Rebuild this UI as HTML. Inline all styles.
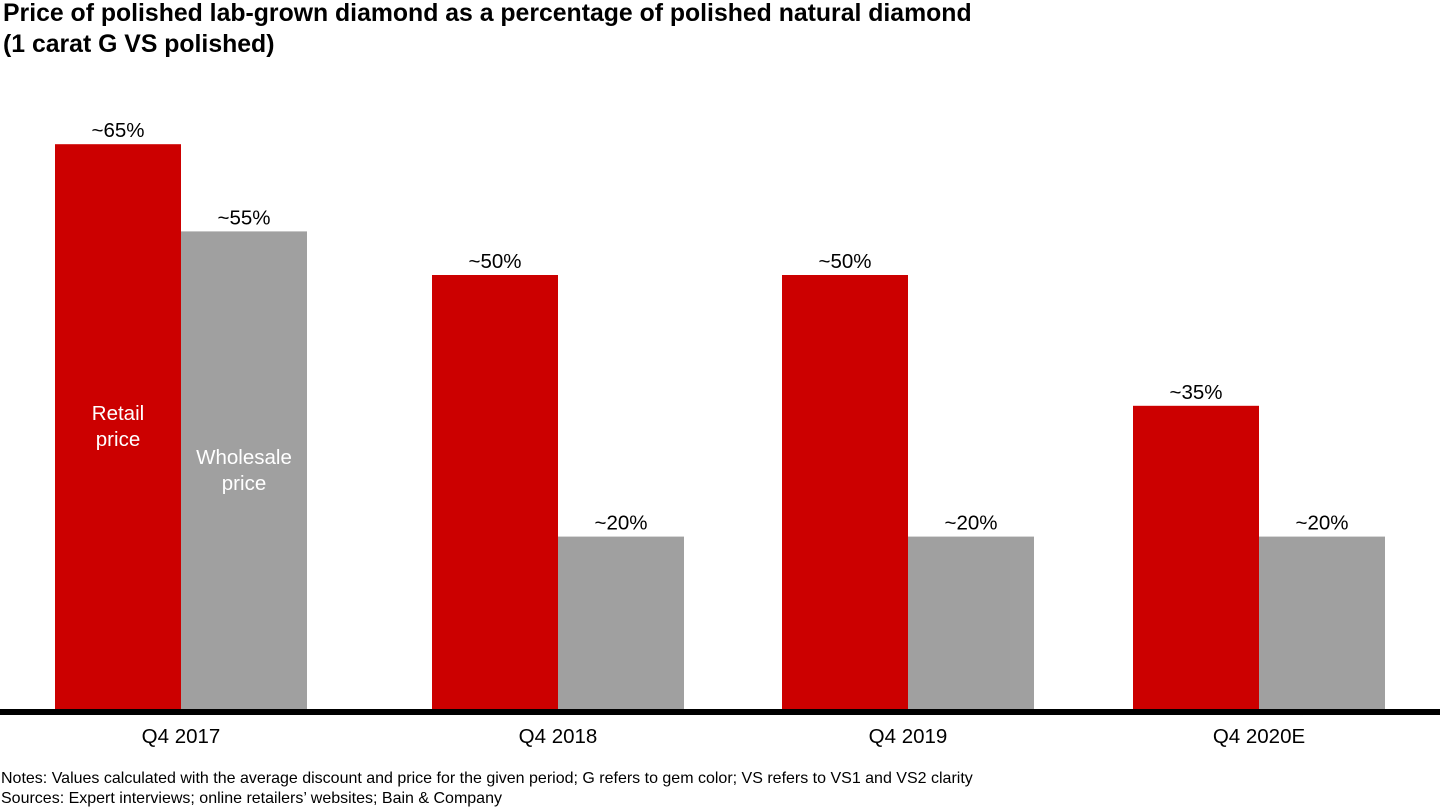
<!DOCTYPE html>
<html><head><meta charset="utf-8"><style>
body{margin:0;background:#fff;font-family:"Liberation Sans",sans-serif;}
#wrap{position:relative;width:1440px;height:810px;overflow:hidden;}
.title{position:absolute;left:3px;font-weight:bold;font-size:24.8px;color:#000;}
.note{position:absolute;left:1px;font-size:16px;color:#000;}
</style></head><body>
<div id="wrap">
<div class="title" style="top:0px">Price of polished lab-grown diamond as a percentage of polished natural diamond</div>
<div class="title" style="top:31px">(1 carat G VS polished)</div>
<svg id="chart" width="1440" height="770" style="position:absolute;left:0;top:0"></svg>
<div class="note" style="top:770px">Notes: Values calculated with the average discount and price for the given period; G refers to gem color; VS refers to VS1 and VS2 clarity</div>
<div class="note" style="top:790px">Sources: Expert interviews; online retailers’ websites; Bain &amp; Company</div>
</div>
<script>
const categories=["Q4 2017","Q4 2018","Q4 2019","Q4 2020E"];
const retail=[65,50,50,35];
const wholesale=[55,20,20,20];
const retailLabels=["~65%","~50%","~50%","~35%"];
const wholesaleLabels=["~55%","~20%","~20%","~20%"];
const svg=document.getElementById('chart');
const NS="http://www.w3.org/2000/svg";
const base=711, pxPer=8.72, barW=126;
const groupCenters=[181,558,908,1259];
function y(v){return base-v*pxPer;}
function cx(i){return groupCenters[i];}
function mk(t,a){const e=document.createElementNS(NS,t);for(const k in a)e.setAttribute(k,a[k]);svg.appendChild(e);return e;}
categories.forEach((c,i)=>{
  const r=mk('rect',{x:cx(i)-barW,y:y(retail[i]),width:barW,height:retail[i]*pxPer,fill:'#cc0000'});
  
  
  const g=mk('rect',{x:cx(i),y:y(wholesale[i]),width:barW,height:wholesale[i]*pxPer,fill:'#a0a0a0'});
  
  
  const t1=mk('text',{x:cx(i)-barW/2,y:y(retail[i])-7,'text-anchor':'middle','font-size':20.5,fill:'#000'});
  t1.textContent=retailLabels[i];
  
  
  const t2=mk('text',{x:cx(i)+barW/2,y:y(wholesale[i])-7,'text-anchor':'middle','font-size':20.5,fill:'#000'});
  t2.textContent=wholesaleLabels[i];
  
  
  const cl=mk('text',{x:cx(i),y:743,'text-anchor':'middle','font-size':20.5,fill:'#000'});
  cl.textContent=c;
  
  
});
const ax=mk('rect',{x:0,y:709,width:1440,height:6,fill:'#000'});


function inLabel(lines,x,yy,name){
  const t=mk('text',{x:x,y:yy,'text-anchor':'middle','font-size':20.5,fill:'#fff'});
  
  
  lines.forEach((l,k)=>{const s=document.createElementNS(NS,'tspan');s.setAttribute('x',x);s.setAttribute('dy',k?26:0);s.textContent=l;t.appendChild(s);});
}
inLabel(["Retail","price"],cx(0)-barW/2,420,'legend-retail-price');
inLabel(["Wholesale","price"],cx(0)+barW/2,464,'legend-wholesale-price');
</script>
</body></html>
